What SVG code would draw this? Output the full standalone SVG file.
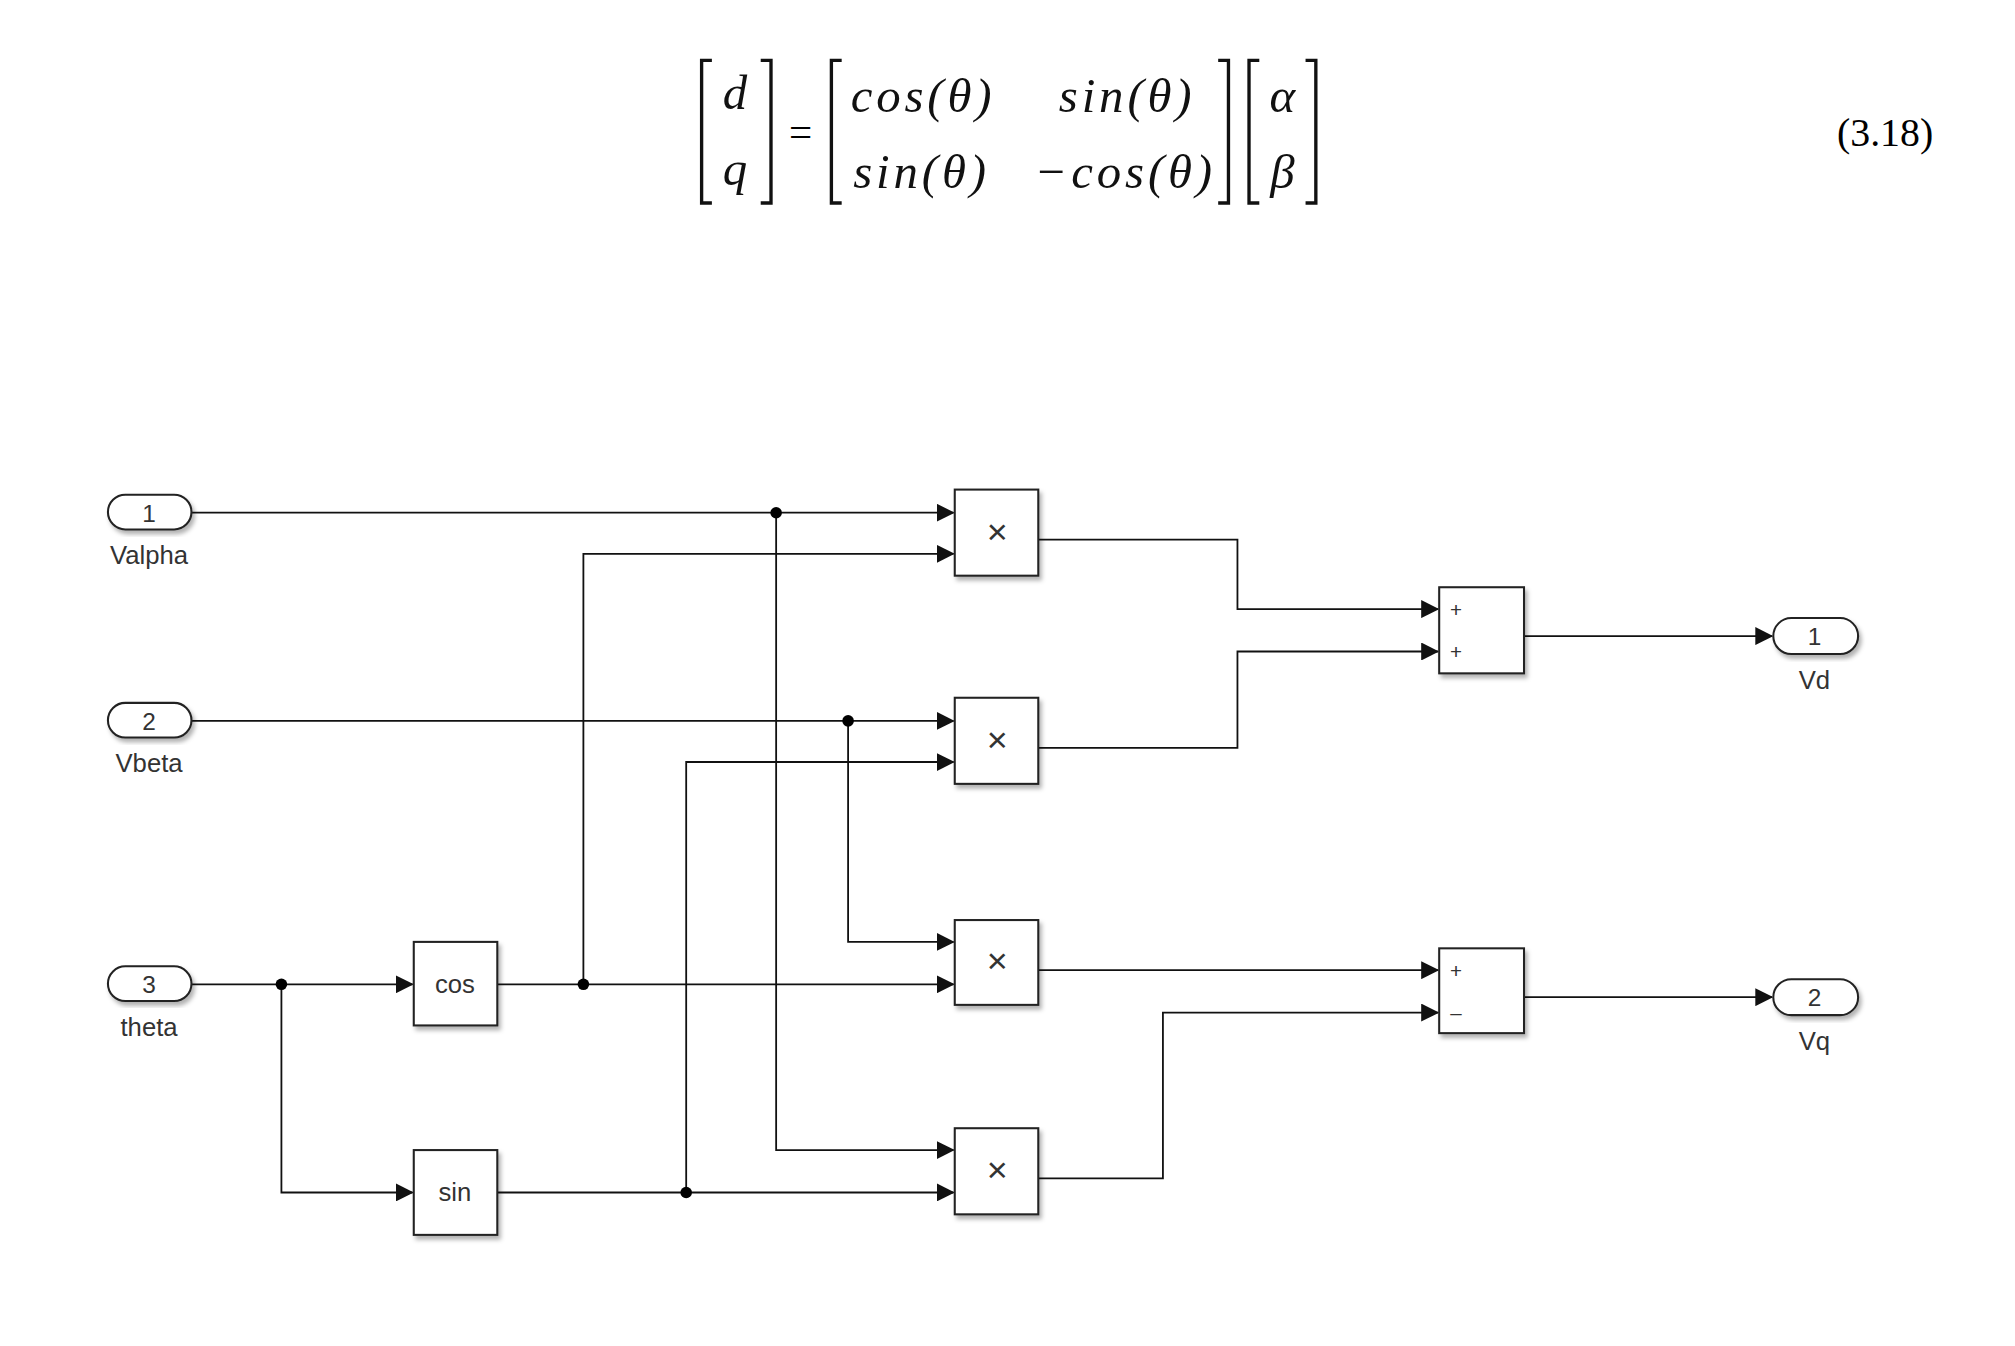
<svg xmlns="http://www.w3.org/2000/svg" width="2015" height="1346" viewBox="0 0 2015 1346">
<style>
.b{fill:#fff;stroke:#222;stroke-width:1.6}
.w{fill:none;stroke:#111;stroke-width:1.4}
.t{font-family:"Liberation Sans",Arial,sans-serif;fill:#333;text-anchor:middle}
.m{font-family:"Liberation Serif","DejaVu Serif",serif;font-style:italic;font-size:38px;fill:#111}
.br{fill:none;stroke:#111;stroke-width:2.6}
</style>
<defs>
<marker id="a" markerWidth="14" markerHeight="14" refX="13" refY="7" orient="auto" markerUnits="userSpaceOnUse"><path d="M0,0 L14,7 L0,14 Z" fill="#111"/></marker>
<filter id="s" x="-10%" y="-10%" width="130%" height="130%"><feDropShadow dx="2" dy="3" stdDeviation="1.5" flood-color="#000" flood-opacity="0.3"/></filter>
</defs>
<rect width="2015" height="1346" fill="#fff"/>
<g transform="scale(1.285)">
<g id="equation">
<path class="br" d="M554,47 H546 V158 H554 M592,47 H600 V158 H592"/>
<text class="m" x="572" y="85" text-anchor="middle">d</text>
<text class="m" x="572" y="144" text-anchor="middle">q</text>
<text x="623" y="114" font-family="Liberation Serif,serif" font-size="32" text-anchor="middle">=</text>
<path class="br" d="M655,47 H647 V158 H655 M948,47 H956 V158 H948"/>
<text class="m" x="662" y="87" letter-spacing="3">cos(θ)</text>
<text class="m" x="824" y="87" letter-spacing="3">sin(θ)</text>
<text class="m" x="664" y="146" letter-spacing="3">sin(θ)</text>
<text class="m" x="805" y="146" letter-spacing="3">−cos(θ)</text>
<path class="br" d="M980,47 H972 V158 H980 M1016,47 H1024 V158 H1016"/>
<text class="m" x="998" y="87" text-anchor="middle">α</text>
<text class="m" x="998" y="146" text-anchor="middle">β</text>
<text x="1467" y="114" font-family="Liberation Serif,serif" font-size="31" text-anchor="middle">(3.18)</text>
</g>
<g id="connectors">
<path class="w" d="M149,399 H742" marker-end="url(#a)"/>
<path class="w" d="M454,766 V431 H742" marker-end="url(#a)"/>
<path class="w" d="M149,561 H742" marker-end="url(#a)"/>
<path class="w" d="M534,928 V593 H742" marker-end="url(#a)"/>
<path class="w" d="M660,561 V733 H742" marker-end="url(#a)"/>
<path class="w" d="M387,766 H742" marker-end="url(#a)"/>
<path class="w" d="M604,399 V895 H742" marker-end="url(#a)"/>
<path class="w" d="M387,928 H742" marker-end="url(#a)"/>
<path class="w" d="M149,766 H321" marker-end="url(#a)"/>
<path class="w" d="M219,766 V928 H321" marker-end="url(#a)"/>
<path class="w" d="M808,420 H963 V474 H1119" marker-end="url(#a)"/>
<path class="w" d="M808,582 H963 V507 H1119" marker-end="url(#a)"/>
<path class="w" d="M808,755 H1119" marker-end="url(#a)"/>
<path class="w" d="M808,917 H905 V788 H1119" marker-end="url(#a)"/>
<path class="w" d="M1186,495 H1379" marker-end="url(#a)"/>
<path class="w" d="M1186,776 H1379" marker-end="url(#a)"/>
<circle cx="604" cy="399" r="4.5"/><circle cx="660" cy="561" r="4.5"/>
<circle cx="219" cy="766" r="4.5"/><circle cx="454" cy="766" r="4.5"/><circle cx="534" cy="928" r="4.5"/>
</g>
<g id="in1"><rect class="b" filter="url(#s)" x="84" y="385" width="65" height="27" rx="13.5"/><text class="t" x="116" y="406" font-size="19">1</text><text class="t" x="116" y="439" font-size="20">Valpha</text></g>
<g id="in2"><rect class="b" filter="url(#s)" x="84" y="547" width="65" height="27" rx="13.5"/><text class="t" x="116" y="568" font-size="19">2</text><text class="t" x="116" y="601" font-size="20">Vbeta</text></g>
<g id="in3"><rect class="b" filter="url(#s)" x="84" y="752" width="65" height="27" rx="13.5"/><text class="t" x="116" y="773" font-size="19">3</text><text class="t" x="116" y="806" font-size="20">theta</text></g>
<g id="cos"><rect class="b" filter="url(#s)" x="322" y="733" width="65" height="65"/><text class="t" x="354" y="773" font-size="20">cos</text></g>
<g id="sin"><rect class="b" filter="url(#s)" x="322" y="895" width="65" height="66"/><text class="t" x="354" y="935" font-size="20">sin</text></g>
<g id="p1"><rect class="b" filter="url(#s)" x="743" y="381" width="65" height="67"/><text class="t" x="776" y="423" font-size="28">×</text></g>
<g id="p2"><rect class="b" filter="url(#s)" x="743" y="543" width="65" height="67"/><text class="t" x="776" y="585" font-size="28">×</text></g>
<g id="p3"><rect class="b" filter="url(#s)" x="743" y="716" width="65" height="66"/><text class="t" x="776" y="757" font-size="28">×</text></g>
<g id="p4"><rect class="b" filter="url(#s)" x="743" y="878" width="65" height="67"/><text class="t" x="776" y="920" font-size="28">×</text></g>
<g id="sum1"><rect class="b" filter="url(#s)" x="1120" y="457" width="66" height="67"/><text class="t" x="1133" y="480" font-size="16">+</text><text class="t" x="1133" y="513" font-size="16">+</text></g>
<g id="sum2"><rect class="b" filter="url(#s)" x="1120" y="738" width="66" height="66"/><text class="t" x="1133" y="761" font-size="16">+</text><text class="t" x="1133" y="794" font-size="16">–</text></g>
<g id="out1"><rect class="b" filter="url(#s)" x="1380" y="481" width="66" height="28" rx="14"/><text class="t" x="1412" y="502" font-size="19">1</text><text class="t" x="1412" y="536" font-size="20">Vd</text></g>
<g id="out2"><rect class="b" filter="url(#s)" x="1380" y="762" width="66" height="28" rx="14"/><text class="t" x="1412" y="783" font-size="19">2</text><text class="t" x="1412" y="817" font-size="20">Vq</text></g>
</g>
</svg>
